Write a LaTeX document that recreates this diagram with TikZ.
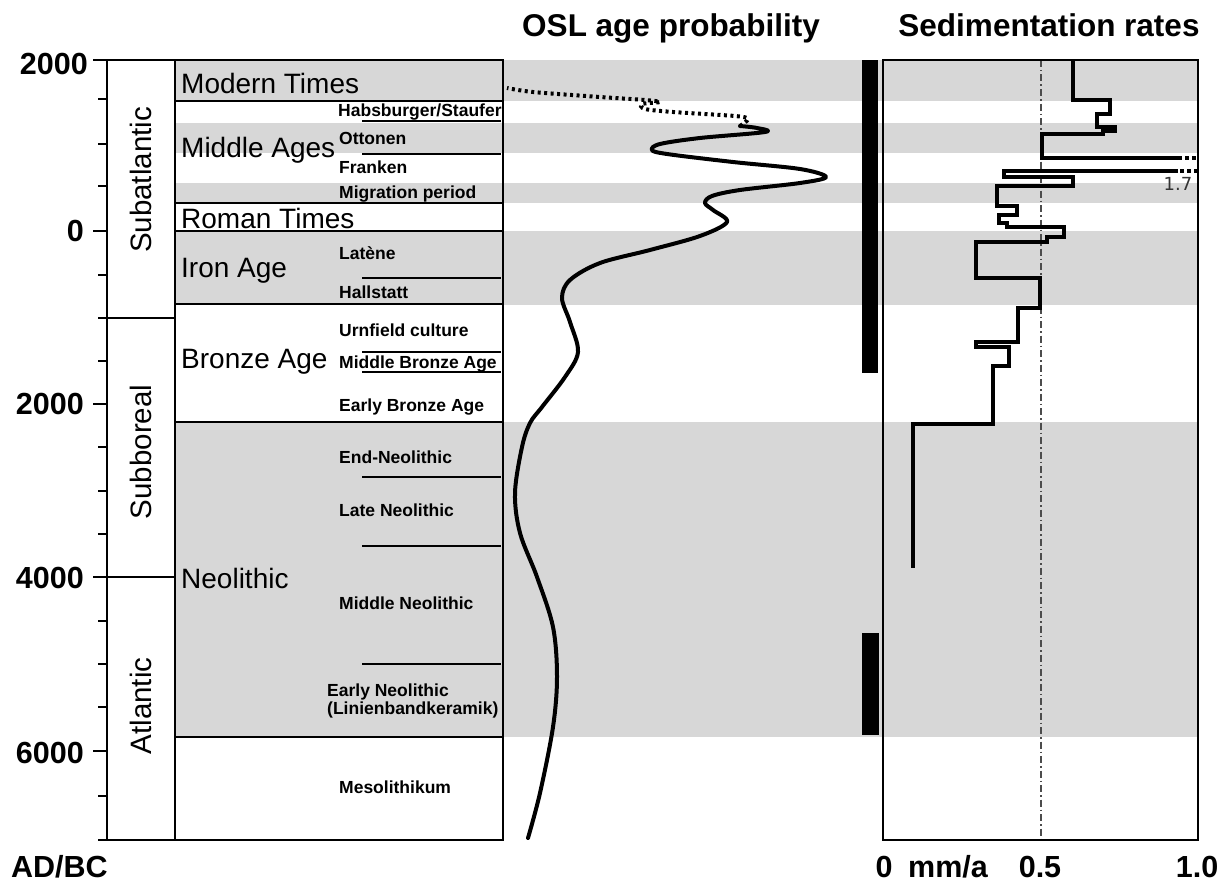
\documentclass[tikz,border=0pt]{standalone}
\usepackage{fontspec}
\setmainfont{Liberation Sans}
\newfontfamily\dejavu{DejaVu Sans}
\definecolor{band}{RGB}{215,215,215}
\begin{document}
\begin{tikzpicture}[x=1pt,y=-1pt,
  frame/.style={line width=2.6pt},
  tick/.style={line width=2.2pt},
  big/.style={font=\fontsize{28}{30}\selectfont, anchor=base west, inner sep=0pt},
  sub/.style={font=\bfseries\fontsize{17.5}{19}\selectfont, anchor=base west, inner sep=0pt},
  axlab/.style={font=\bfseries\fontsize{30.5}{32}\selectfont, inner sep=0pt},
  head/.style={font=\bfseries\fontsize{31.5}{33}\selectfont, inner sep=0pt, anchor=base},
  clim/.style={font=\fontsize{29.5}{31}\selectfont, rotate=90, inner sep=0pt},
  curve/.style={line width=4pt, line cap=round, line join=round},
  rate/.style={line width=3.5pt, line join=miter}]
\useasboundingbox (0,0) rectangle (1229,883);

% gray bands
\foreach \a/\b in {60/101,123/153,183/203,231/305,422/737}
  \fill[band] (175,\a) rectangle (1198,\b);

% headers
\node[head] (hosl) at (671,37) {OSL age probability};
\node[head] (hsed) at (1049,37) {Sedimentation rates};

% left axis ticks and labels
\foreach \y in {60,231,404,577,751} \draw[tick] (93,\y) -- (107,\y);
\foreach \y in {99,144,186,275,318,361,447,491,534,621,664,707,796,840} \draw[tick] (98,\y) -- (107,\y);
\node[axlab, anchor=east] (l2000a) at (88,64) {2000};
\node[axlab, anchor=east] (l0) at (84,231) {0};
\node[axlab, anchor=east] (l2000b) at (84,404) {2000};
\node[axlab, anchor=east] (l4000) at (84,578) {4000};
\node[axlab, anchor=east] (l6000) at (84,753) {6000};
\node[axlab, anchor=base west] (adbc) at (11,877) {AD/BC};

% left table frame
\draw[frame] (107,60) rectangle (503,840);
\draw[frame] (175,60) -- (175,840);
\draw[frame] (107,318) -- (175,318);
\draw[frame] (93,577) -- (175,577);

% climate periods
\node[clim] (subat) at (141,180) {Subatlantic};
\node[clim] (subbo) at (141,452) {Subboreal};
\node[clim] (atl) at (141,706) {Atlantic};

% archaeological period lines
\foreach \y in {101,203,231,304,422,737} \draw[frame] (175,\y) -- (503,\y);
\foreach \y in {121,154,278,352,372,477,546,664} \draw[frame] (362,\y) -- (501,\y);

% large period labels
\node[big] (modern) at (181,93) {Modern Times};
\node[big] (middle) at (181,157) {Middle Ages};
\node[big] (roman) at (181,228) {Roman Times};
\node[big] (iron) at (181,277) {Iron Age};
\node[big] (bronze) at (181,368) {Bronze Age};
\node[big] (neo) at (181,588) {Neolithic};

% sub-period labels
\node[sub] (habs) at (338,117) {Habsburger/Staufer};
\node[sub] (otto) at (339,144) {Ottonen};
\node[sub] (frank) at (339,173) {Franken};
\node[sub] (migr) at (339,198) {Migration period};
\node[sub] (late) at (339,259) {Latène};
\node[sub] (hall) at (339,298) {Hallstatt};
\node[sub] (urn) at (339,336) {Urnfield culture};
\node[sub] (mba) at (339,368) {Middle Bronze Age};
\node[sub] (eba) at (339,411) {Early Bronze Age};
\node[sub] (endn) at (339,463) {End-Neolithic};
\node[sub] (laten) at (339,516) {Late Neolithic};
\node[sub] (midn) at (339,609) {Middle Neolithic};
\node[sub] (earlyn) at (327,696) {Early Neolithic};
\node[sub] (linb) at (327,714) {(Linienbandkeramik)};
\node[sub] (meso) at (339,793) {Mesolithikum};

% OSL curve
\draw[curve] plot[smooth, tension=0.55] coordinates {
 (528,838) (540,793) (553,727) (557,677) (553,627) (537,577) (520,533)
 (515,493) (522,447) (530,423) (542,407) (565,377) (578,352) (570,322)
 (562,298) (570,280) (600,263) (650,250) (700,236) (727,222) (713,210)
 (705,203) (712,196) (740,190) (800,183) (826,177) (800,169) (733,162)
 (667,154) (652,150) (660,144) (700,138) (765,132) (757,128) (740,126)};
\draw[line width=4pt, dash pattern=on 3pt off 3.5pt] plot[smooth, tension=0.5] coordinates {
 (740,126) (748,119) (735,116) (673,112) (645,109) (642,104) (660,102)
 (645,100) (600,97) (533,92) (507,88)};

% black bars
\fill (862,60) rectangle (878,373);
\fill (862,633) rectangle (879,735);

% sedimentation rates panel
\draw[gray!60!black, line width=1.3pt, dash pattern=on 7pt off 3pt on 1.5pt off 3pt] (1041,60) -- (1041,840);
\draw[frame] (883,60) rectangle (1198,840);
\draw[rate] (1073,60) -- (1073,100) -- (1110,100) -- (1110,114) -- (1097,114) -- (1097,127)
 -- (1115,127) -- (1115,131) -- (1103,131) -- (1103,134) -- (1042,134) -- (1042,158) -- (1178,158);
\draw[line width=3.5pt, dash pattern=on 4pt off 3pt] (1178,158) -- (1198,158);
\draw[line width=3.5pt, dash pattern=on 4pt off 3pt] (1198,171) -- (1178,171);
\draw[rate] (1178,171) -- (1004,171) -- (1004,177) -- (1073,177) -- (1073,186) -- (997,186)
 -- (997,206) -- (1017,206) -- (1017,215) -- (999,215) -- (999,223) -- (1007,223)
 -- (1007,227) -- (1064,227) -- (1064,237) -- (1047,237) -- (1047,242) -- (976,242)
 -- (976,278) -- (1040,278) -- (1040,308) -- (1018,308) -- (1018,342) -- (976,342)
 -- (976,347) -- (1009,347) -- (1009,366) -- (993,366) -- (993,424) -- (913,424) -- (913,568);
\node[font=\dejavu\fontsize{18}{20}\selectfont, text=black!80, inner sep=0pt] (v17) at (1178,184) {1.7};

% x axis labels
\node[axlab, anchor=base] (x0) at (884,877) {0};
\node[axlab, anchor=base] (xunit) at (948,877) {mm/a};
\node[axlab, anchor=base] (x05) at (1040,877) {0.5};
\node[axlab, anchor=base] (x10) at (1197,877) {1.0};
\end{tikzpicture}
\end{document}
